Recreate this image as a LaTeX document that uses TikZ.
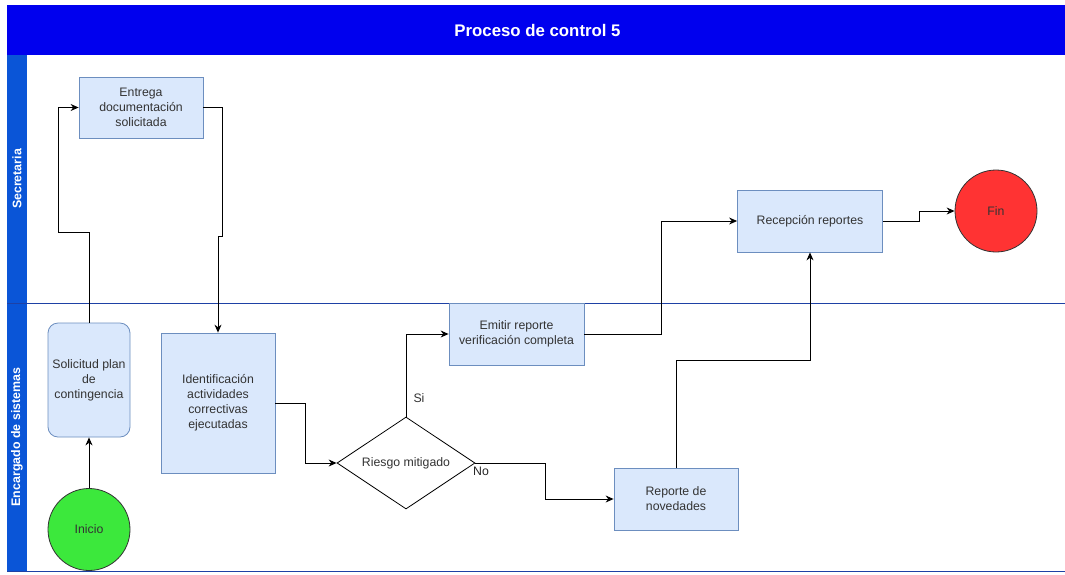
\documentclass[tikz,border=0pt]{standalone}
\usepackage{fontspec}
\setmainfont{Liberation Sans}
\usetikzlibrary{arrows.meta,shapes.geometric}
\definecolor{titleblue}{RGB}{0,0,238}
\definecolor{laneblue}{RGB}{10,85,215}
\definecolor{laneline}{RGB}{30,65,165}
\definecolor{boxfill}{HTML}{DAE8FC}
\definecolor{boxline}{HTML}{6C8EBF}
\definecolor{txt}{HTML}{333333}
\definecolor{startgreen}{RGB}{60,232,60}
\definecolor{endred}{RGB}{255,51,51}
\begin{document}
\begin{tikzpicture}[x=1pt,y=-1pt,
  every node/.style={font=\fontsize{12.3}{15}\selectfont, text=txt},
  task/.style={draw=boxline, fill=boxfill, line width=0.8pt, align=center, inner sep=2pt},
  decision/.style={diamond, draw=black, fill=white, line width=0.8pt, shape aspect=1.5, inner sep=0pt,
    minimum width=138, minimum height=92},
  terminal/.style={circle, draw=black!80, line width=0.8pt, minimum size=82, inner sep=0pt},
  flow/.style={draw=black, line width=0.9pt, -{Stealth[length=8pt,width=7pt]}},
  lanetitle/.style={rotate=90, text=white, font=\bfseries\fontsize{12.4}{14}\selectfont},
  lbl/.style={inner sep=0pt}
]
% page
\fill[white] (0,0) rectangle (1065,574);
\useasboundingbox (0,0) rectangle (1065,574);

% pool header
\fill[titleblue] (7,5) rectangle (1065,55);
\node[text=white, font=\bfseries\fontsize{16.8}{18}\selectfont] (title) at (537.5,30)
  {Proceso de control 5};

% lanes
\fill[laneblue] (7,55) rectangle (27,571);
\draw[laneline, line width=0.9pt] (7,303) -- (1065,303);
\draw[laneline, line width=0.9pt] (7,571) -- (1065,571);
\node[lanetitle] (lane1) at (17,179) {Secretaria};
\node[lanetitle] (lane2) at (17,437) {Encargado de sistemas};

% steps
\node[task, minimum width=124, minimum height=61] (ent) at (141,107.5)
  {Entrega\\documentación\\solicitada};
\node[task, rounded corners=10pt, minimum width=82, minimum height=114] (sol) at (89,380)
  {Solicitud plan\\de\\contingencia};
\node[task, minimum width=114, minimum height=140] (ide) at (218,403)
  {Identificación\\actividades\\correctivas\\ejecutadas};
\node[decision] (dia) at (406,463) {Riesgo mitigado};
\node[task, minimum width=135, minimum height=62] (emi) at (516.5,334)
  {Emitir reporte\\verificación completa};
\node[task, minimum width=124, minimum height=62] (rep) at (676,499)
  {Reporte de\\novedades};
\node[task, minimum width=145, minimum height=62] (rec) at (810,221)
  {Recepción reportes};
\node[terminal, fill=startgreen] (ini) at (89,529.5) {Inicio};
\node[terminal, fill=endred] (fin) at (996,211) {Fin};

% connectors
\draw[flow] (ini.north) -- (sol.south);
\draw[flow] (sol.north) |- (58,232) |- (ent.west);
\draw[flow] (ent.east) -| (222,236) -- (218,236) -- (ide.north);
\draw[flow] (ide.east) -| (305,463) -- (dia.west);
\draw[flow] (dia.north) |- (emi.west);
\draw[flow] (dia.east) -| (545,499) -- (rep.west);
\draw[flow] (emi.east) -| (661,221) -- (rec.west);
\draw[flow] (rep.north) |- (810,360) -- (rec.south);
\draw[flow] (rec.east) -| (919,211) -- (fin.west);

% branch labels
\node[lbl] (si) at (419,398) {Si};
\node[lbl, text=black!85] (no) at (481,471) {No};
\end{tikzpicture}
\end{document}
